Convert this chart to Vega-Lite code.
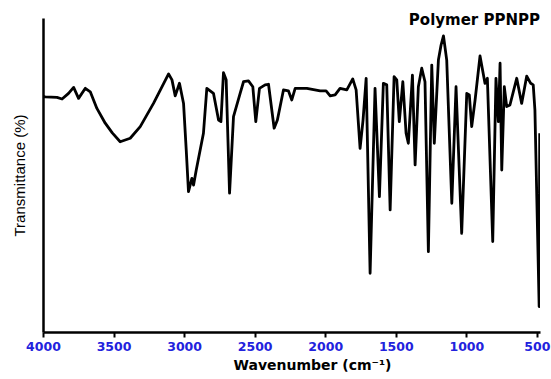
{
  "$schema": "https://vega.github.io/schema/vega-lite/v6.json",
  "autosize": {"type": "none"},
  "width": 497,
  "height": 314,
  "padding": {"left": 43, "top": 18, "right": 11, "bottom": 47},
  "background": "white",
  "title": {
    "text": "Polymer PPNPP",
    "anchor": "end",
    "frame": "group",
    "offset": -10,
    "font": "DejaVu Sans",
    "fontSize": 15,
    "fontWeight": "bold",
    "color": "black"
  },
  "data": {
    "values": [
      {"wn": 3998, "t": 75.0}, {"wn": 3984, "t": 74.9}, {"wn": 3901, "t": 74.7}, {"wn": 3865, "t": 74.2},
      {"wn": 3819, "t": 76.0}, {"wn": 3783, "t": 77.9}, {"wn": 3748, "t": 74.4}, {"wn": 3700, "t": 77.6},
      {"wn": 3665, "t": 76.5}, {"wn": 3618, "t": 71.2}, {"wn": 3559, "t": 66.5}, {"wn": 3509, "t": 63.4},
      {"wn": 3453, "t": 60.6}, {"wn": 3382, "t": 61.7}, {"wn": 3311, "t": 65.4}, {"wn": 3217, "t": 72.8},
      {"wn": 3110, "t": 82.2}, {"wn": 3086, "t": 80.3}, {"wn": 3063, "t": 75.2}, {"wn": 3033, "t": 79.2},
      {"wn": 3004, "t": 72.8}, {"wn": 2985, "t": 58.0}, {"wn": 2969, "t": 44.7}, {"wn": 2945, "t": 48.9},
      {"wn": 2933, "t": 46.8}, {"wn": 2914, "t": 51.6}, {"wn": 2863, "t": 63.3}, {"wn": 2839, "t": 77.6},
      {"wn": 2792, "t": 76.0}, {"wn": 2756, "t": 67.5}, {"wn": 2739, "t": 67.0}, {"wn": 2721, "t": 82.6},
      {"wn": 2702, "t": 80.3}, {"wn": 2678, "t": 44.2}, {"wn": 2650, "t": 68.6}, {"wn": 2603, "t": 76.0},
      {"wn": 2579, "t": 79.7}, {"wn": 2544, "t": 80.0}, {"wn": 2513, "t": 78.1}, {"wn": 2492, "t": 67.0},
      {"wn": 2466, "t": 77.6}, {"wn": 2426, "t": 78.7}, {"wn": 2402, "t": 78.9}, {"wn": 2362, "t": 64.9},
      {"wn": 2339, "t": 67.5}, {"wn": 2296, "t": 77.1}, {"wn": 2261, "t": 76.8}, {"wn": 2237, "t": 73.9},
      {"wn": 2213, "t": 77.6}, {"wn": 2130, "t": 77.6}, {"wn": 2036, "t": 76.8}, {"wn": 1994, "t": 76.8},
      {"wn": 1965, "t": 75.2}, {"wn": 1930, "t": 75.5}, {"wn": 1895, "t": 77.6}, {"wn": 1847, "t": 77.1},
      {"wn": 1805, "t": 80.6}, {"wn": 1781, "t": 77.1}, {"wn": 1753, "t": 58.5}, {"wn": 1732, "t": 67.5},
      {"wn": 1710, "t": 80.8}, {"wn": 1682, "t": 18.7}, {"wn": 1647, "t": 77.6}, {"wn": 1616, "t": 43.1},
      {"wn": 1588, "t": 79.2}, {"wn": 1564, "t": 78.7}, {"wn": 1540, "t": 38.9}, {"wn": 1512, "t": 81.3},
      {"wn": 1493, "t": 80.3}, {"wn": 1475, "t": 67.0}, {"wn": 1450, "t": 79.7}, {"wn": 1427, "t": 63.3},
      {"wn": 1411, "t": 60.1}, {"wn": 1382, "t": 81.8}, {"wn": 1363, "t": 53.2}, {"wn": 1340, "t": 78.1},
      {"wn": 1316, "t": 84.0}, {"wn": 1293, "t": 79.7}, {"wn": 1269, "t": 25.6}, {"wn": 1245, "t": 85.0},
      {"wn": 1227, "t": 60.1}, {"wn": 1198, "t": 86.6}, {"wn": 1179, "t": 91.4}, {"wn": 1162, "t": 94.3},
      {"wn": 1139, "t": 86.6}, {"wn": 1103, "t": 41.0}, {"wn": 1073, "t": 78.1}, {"wn": 1033, "t": 31.4},
      {"wn": 997, "t": 76.0}, {"wn": 979, "t": 75.5}, {"wn": 962, "t": 65.4}, {"wn": 938, "t": 73.9},
      {"wn": 903, "t": 87.9}, {"wn": 868, "t": 79.2}, {"wn": 851, "t": 80.8}, {"wn": 813, "t": 28.8},
      {"wn": 790, "t": 80.8}, {"wn": 773, "t": 67.0}, {"wn": 761, "t": 85.6}, {"wn": 749, "t": 51.6},
      {"wn": 731, "t": 78.1}, {"wn": 714, "t": 71.8}, {"wn": 691, "t": 72.3}, {"wn": 643, "t": 80.8},
      {"wn": 608, "t": 72.8}, {"wn": 572, "t": 81.5}, {"wn": 544, "t": 79.2}, {"wn": 526, "t": 78.7},
      {"wn": 514, "t": 70.7}, {"wn": 484, "t": 8.1}, {"wn": 480, "t": 63.3}
    ]
  },
  "mark": {"type": "line", "color": "black", "strokeWidth": 2.8, "strokeJoin": "round", "clip": true},
  "encoding": {
    "x": {
      "field": "wn",
      "type": "quantitative",
      "sort": null,
      "scale": {"domain": [478, 4000], "reverse": true, "nice": false, "zero": false},
      "axis": {
        "title": "Wavenumber (cm⁻¹)",
        "titleFont": "DejaVu Sans",
        "titleFontSize": 14,
        "titleFontWeight": "bold",
        "titleColor": "black",
        "titlePadding": 6,
        "titleX": 269,
        "values": [500, 1000, 1500, 2000, 2500, 3000, 3500, 4000],
        "format": "d",
        "labelFont": "DejaVu Sans",
        "labelFontSize": 12.5,
        "labelFontWeight": "bold",
        "labelColor": "#2222dd",
        "labelPadding": 3,
        "labelFlush": false,
        "labelOverlap": false,
        "tickSize": 5,
        "tickWidth": 2,
        "tickColor": "black",
        "domainColor": "black",
        "domainWidth": 2.5,
        "grid": false
      }
    },
    "y": {
      "field": "t",
      "type": "quantitative",
      "scale": {"domain": [0, 100], "nice": false},
      "axis": {
        "title": "Transmittance (%)",
        "titleFont": "Liberation Sans",
        "titleFontSize": 15,
        "titleFontWeight": "normal",
        "titleColor": "black",
        "titlePadding": 16,
        "labels": false,
        "ticks": false,
        "grid": false,
        "domainColor": "black",
        "domainWidth": 2.5
      }
    }
  },
  "config": {"view": {"stroke": null}}
}
